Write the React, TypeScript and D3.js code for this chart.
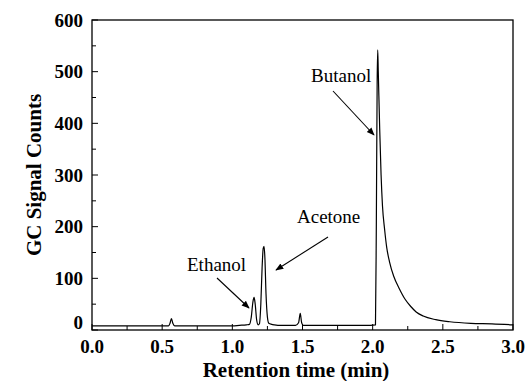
import React from 'react';
import * as d3 from 'd3';

// retention time (min) and GC signal
const times = [
  0.0, 0.3, 0.5, 0.545, 0.556, 0.566, 0.576, 0.59, 0.7, 0.9,
  1.0, 1.05, 1.1, 1.122, 1.135, 1.147, 1.155, 1.163, 1.173, 1.184,
  1.193, 1.203, 1.212, 1.22, 1.226, 1.232, 1.24, 1.25, 1.26, 1.28,
  1.3, 1.35, 1.45, 1.472, 1.484, 1.494, 1.506, 1.6, 1.8, 1.95,
  2.02, 2.026, 2.032, 2.036, 2.04, 2.05, 2.06, 2.07, 2.085, 2.1,
  2.12, 2.15, 2.19, 2.23, 2.27, 2.31, 2.36, 2.45, 2.55, 2.7, 2.85, 3.0,
];
const signal = [
  8, 8, 8, 8, 13, 22, 13, 8, 8, 8,
  8, 9, 10, 11, 25, 55, 63, 50, 20, 10,
  12, 50, 120, 158, 162, 140, 70, 25, 13, 11,
  10, 9, 9, 14, 32, 14, 9, 9, 9, 9,
  10, 200, 480, 542, 500, 390, 300, 240, 195, 160,
  132, 104, 80, 60, 46, 35, 27, 20, 16, 13, 12, 10,
];

const xTicks = [0, 0.5, 1.0, 1.5, 2.0, 2.5, 3.0];
const xMinor = [0.25, 0.75, 1.25, 1.75, 2.25, 2.75];
const yTicks = [0, 100, 200, 300, 400, 500, 600];
const yMinor = [50, 150, 250, 350, 450, 550];

const W = 527;
const H = 381;
const left = 92;
const right = 513;
const top = 20;
const bottom = 330;

const serif = '"Liberation Serif", "Times New Roman", serif';

export default function App() {
  const x = d3.scaleLinear().domain([0, 3]).range([left, right]);
  const y = d3.scaleLinear().domain([0, 600]).range([bottom, top]);

  const pts: [number, number][] = times.map((t, i) => [t, signal[i]]);
  const line = d3.line<[number, number]>()
    .x(d => x(d[0]))
    .y(d => y(d[1]))
    .curve(d3.curveMonotoneX);

  return (
    <svg width={W} height={H} style={{ position: 'absolute', left: 0, top: 0 }}>
      <defs>
        <marker id="arr" viewBox="0 0 10 10" refX="9" refY="5" markerWidth="8" markerHeight="8" orient="auto" markerUnits="userSpaceOnUse">
          <path d="M0,1 L10,5 L0,9 z" fill="#000" />
        </marker>
      </defs>
      <rect width={W} height={H} fill="#fff" />

      <path d={line(pts) || ''} fill="none" stroke="#000" strokeWidth={1.2} />

      <rect x={left} y={top} width={right - left} height={bottom - top} fill="none" stroke="#000" strokeWidth={1.3} />

      {xTicks.map(t => (
        <g key={'x' + t}>
          <line x1={x(t)} x2={x(t)} y1={bottom} y2={bottom - 6} stroke="#000" strokeWidth={1} />
          <text x={x(t)} y={353} textAnchor="middle" fontFamily={serif} fontWeight="bold" fontSize={19}>
            {t.toFixed(1)}
          </text>
        </g>
      ))}
      {xMinor.map(t => (
        <line key={'xm' + t} x1={x(t)} x2={x(t)} y1={bottom} y2={bottom - 4} stroke="#000" strokeWidth={1} />
      ))}
      {yTicks.map(v => (
        <g key={'y' + v}>
          <line x1={left} x2={left + 6} y1={y(v)} y2={y(v)} stroke="#000" strokeWidth={1} />
          <text x={83} y={v === 0 ? y(v) - 8 : y(v)} dy="0.35em" textAnchor="end" fontFamily={serif} fontWeight="bold" fontSize={19}>
            {v}
          </text>
        </g>
      ))}
      {yMinor.map(v => (
        <line key={'ym' + v} x1={left} x2={left + 4} y1={y(v)} y2={y(v)} stroke="#000" strokeWidth={1} />
      ))}

      <text x={296} y={377} textAnchor="middle" fontFamily={serif} fontWeight="bold" fontSize={21}>
        Retention time (min)
      </text>
      <text transform={`translate(41,${(top + bottom) / 2}) rotate(-90)`} textAnchor="middle" fontFamily={serif} fontWeight="bold" fontSize={21}>
        GC Signal Counts
      </text>

      <text x={187} y={271} fontFamily={serif} fontSize={19}>Ethanol</text>
      <line x1={217} y1={278} x2={249} y2={308} stroke="#000" strokeWidth={1.1} markerEnd="url(#arr)" />

      <text x={297} y={223} fontFamily={serif} fontSize={19}>Acetone</text>
      <line x1={328} y1={237} x2={276} y2={270} stroke="#000" strokeWidth={1.1} markerEnd="url(#arr)" />

      <text x={311} y={82} fontFamily={serif} fontSize={19}>Butanol</text>
      <line x1={333} y1={91} x2={374} y2={135} stroke="#000" strokeWidth={1.1} markerEnd="url(#arr)" />
    </svg>
  );
}
